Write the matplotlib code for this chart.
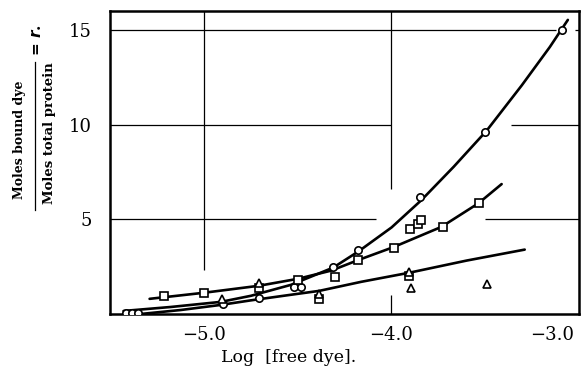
import matplotlib
matplotlib.use("Agg")
import matplotlib.pyplot as plt
import matplotlib.transforms as mtransforms
from matplotlib.lines import Line2D

circle_x = [-3.09, -3.50, -3.845, -4.176, -4.31, -4.519, -4.481, -4.706, -4.898, -5.417, -5.385, -5.353]
circle_y = [15.0, 9.63, 6.17, 3.40, 2.50, 1.44, 1.44, 0.85, 0.53, 0.05, 0.05, 0.05]

square_x = [-5.214, -5.0, -4.706, -4.497, -4.30, -4.176, -3.984, -3.90, -3.86, -3.84, -3.727, -3.535, -4.385, -3.904]
square_y = [0.96, 1.12, 1.38, 1.81, 1.97, 2.87, 3.51, 4.47, 4.73, 4.95, 4.57, 5.85, 0.80, 2.02]

triangle_x = [-4.904, -4.706, -4.385, -3.904, -3.893, -3.492]
triangle_y = [0.80, 1.65, 1.06, 2.23, 1.38, 1.60]

# drawn curves
curve_circle_x = [-5.428, -5.176, -4.909, -4.749, -4.535, -4.310, -4.176, -3.999, -3.840, -3.668, -3.492, -3.305, -3.155, -3.059]
curve_circle_y = [0.16, 0.37, 0.64, 0.96, 1.54, 2.45, 3.30, 4.57, 6.01, 7.77, 9.68, 12.07, 14.1, 15.53]

curve_square_x = [-5.289, -5.0, -4.706, -4.497, -4.321, -4.176, -3.989, -3.733, -3.535, -3.412]
curve_square_y = [0.80, 1.12, 1.49, 1.86, 2.29, 2.85, 3.53, 4.60, 5.85, 6.86]

curve_triangle_x = [-5.337, -5.123, -4.909, -4.749, -4.561, -4.385, -4.16, -3.904, -3.599, -3.289]
curve_triangle_y = [0.0, 0.21, 0.48, 0.72, 0.98, 1.22, 1.70, 2.18, 2.82, 3.40]

x_ticks = [-5.0, -4.0, -3.0]
x_ticklabels = ['\u22125.0', '\u22124.0', '\u22123.0']
y_ticks = [5, 10, 15]

plt.rcParams['font.family'] = ['DejaVu Serif']

fig = plt.figure(figsize=(5.83, 3.75), dpi=100)
ax = fig.add_axes([0.1887, 0.1627, 0.8043, 0.808])

# broken grid lines like the printed figure
ax.vlines(-5.0, 2.34, 16, color='black', lw=0.9)
ax.vlines(-4.0, 6.6, 16, color='black', lw=0.9)
ax.vlines(-4.0, 0, 1.0, color='black', lw=0.9)
ax.hlines(15, -5.5, -3.12, color='black', lw=0.9)
ax.hlines(15, -3.02, -3.0, color='black', lw=0.9)
ax.hlines(10, -5.5, -4.0, color='black', lw=0.9)
ax.hlines(10, -3.36, -3.0, color='black', lw=0.9)
ax.hlines(5, -5.5, -4.08, color='black', lw=0.9)
ax.hlines(5, -3.50, -3.0, color='black', lw=0.9)

ax.plot(curve_circle_x, curve_circle_y, color='black', lw=1.9, solid_capstyle='round')
ax.plot(curve_square_x, curve_square_y, color='black', lw=1.9, solid_capstyle='round')
ax.plot(curve_triangle_x, curve_triangle_y, color='black', lw=1.9, solid_capstyle='round')

mk = dict(linestyle='none', markerfacecolor='white', markeredgecolor='black', markeredgewidth=1.2, zorder=3)
ax.plot(circle_x, circle_y, marker='o', markersize=5.3, **mk)
ax.plot(square_x, square_y, marker='s', markersize=5.3, **mk)
ax.plot(triangle_x, triangle_y, marker='^', markersize=5.8, **mk)

ax.set_xlim(-5.5, -3.0)
ax.set_ylim(0, 16)
ax.set_xticks(x_ticks)
ax.set_xticklabels(x_ticklabels)
ax.set_yticks(y_ticks)
ax.tick_params(length=0, labelsize=13)
ax.tick_params(axis='x', pad=9)
ax.tick_params(axis='y', pad=13)
for s in ax.spines.values():
    s.set_linewidth(1.8)

# last x label sits inside the frame edge, as in the print
last = ax.get_xticklabels()[-1]
last.set_horizontalalignment('right')
last.set_transform(last.get_transform() + mtransforms.ScaledTranslation(-5 / 100, 0, fig.dpi_scale_trans))

fig.text(289 / 583, 1 - 358 / 375, 'Log  [free dye].', ha='center', va='center', fontsize=12.5)

# y label as a stacked fraction
fig.text(20 / 583, 1 - 140 / 375, 'Moles bound dye', rotation=90, ha='center', va='center',
         fontsize=9, fontweight='bold')
fig.text(50 / 583, 1 - 133 / 375, 'Moles total protein', rotation=90, ha='center', va='center',
         fontsize=9.5, fontweight='bold')
fig.add_artist(Line2D([35 / 583, 35 / 583], [1 - 210 / 375, 1 - 62 / 375], color='black', lw=0.9,
                      transform=fig.transFigure))
fig.text(37 / 583, 1 - 40 / 375, '= $\\mathbfit{r}$.', rotation=90, ha='center', va='center',
         fontsize=11, fontweight='bold')

fig.savefig('out.png', dpi=100)
